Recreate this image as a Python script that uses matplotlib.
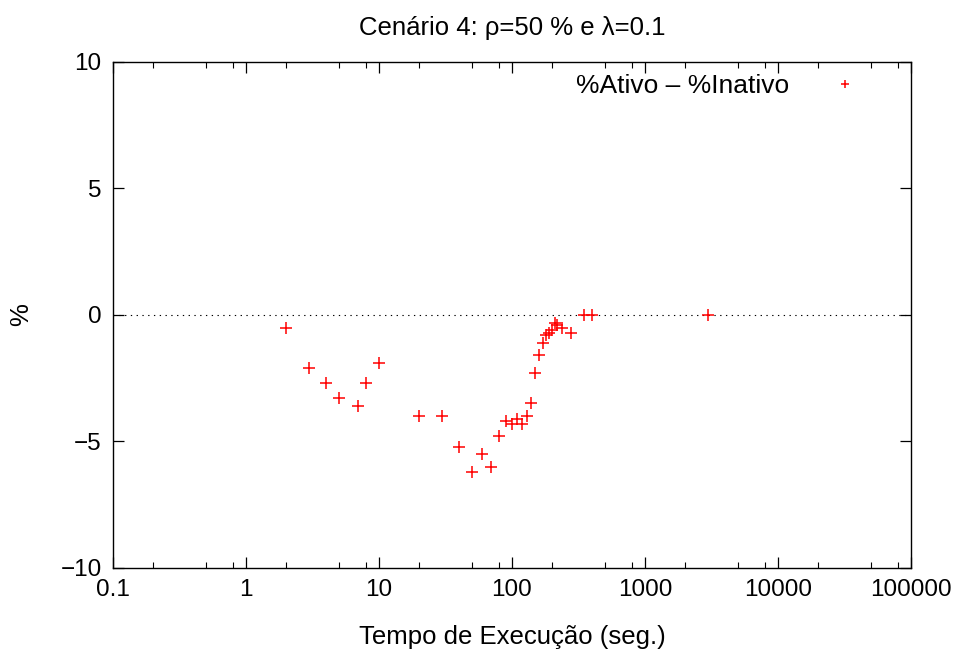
import matplotlib
matplotlib.use('Agg')
import matplotlib.pyplot as plt
from matplotlib.ticker import LogLocator, NullFormatter

plt.rcParams['font.family'] = ['Liberation Sans', 'DejaVu Sans']

# execution time (s) and difference %Ativo - %Inativo
tempo = [2, 3, 4, 5, 7, 8, 10, 20, 30, 40, 50, 60, 70, 80, 90, 100, 110, 120,
         130, 140, 150, 160, 170, 180, 190, 200, 210, 220, 240, 280, 350, 400, 3000]
diferenca = [-0.5, -2.1, -2.7, -3.3, -3.6, -2.7, -1.9, -4.0, -4.0, -5.2, -6.2, -5.5, -6.0,
             -4.8, -4.2, -4.3, -4.1, -4.3, -4.0, -3.5, -2.3, -1.6, -1.1, -0.8, -0.7,
             -0.6, -0.3, -0.4, -0.5, -0.7, 0.0, 0.0, 0.0]

xticks = [0.1, 1, 10, 100, 1000, 10000, 100000]
xticklabels = ['0.1', '1', '10', '100', '1000', '10000', '100000']
yticks = [-10, -5, 0, 5, 10]

fig = plt.figure(figsize=(9.64, 6.51), dpi=100)
ax = fig.add_axes([0.117, 0.1275, 0.828, 0.7775])

ax.axhline(0, color='black', lw=0.8, linestyle=(0, (1.2, 4)), zorder=1)
ax.plot(tempo, diferenca, '+', color='red', markersize=8, markeredgewidth=1.1,
        label='%Ativo \u2013 %Inativo', zorder=3)

ax.set_xscale('log')
ax.set_xlim(0.1, 100000)
ax.set_ylim(-10, 10)
ax.set_xticks(xticks)
ax.set_xticklabels(xticklabels)
ax.xaxis.set_minor_locator(LogLocator(base=10, subs=(2, 5, 8)))
ax.xaxis.set_minor_formatter(NullFormatter())
ax.set_yticks(yticks)
ax.set_yticklabels(['\u221210', '\u22125', '0', '5', '10'])

ax.tick_params(which='both', direction='in', top=True, right=True, labelsize=17.5)
ax.tick_params(which='major', length=8, width=0.9, pad=8)
ax.tick_params(which='minor', length=4.5, width=0.8)
for s in ax.spines.values():
    s.set_linewidth(1.0)

ax.set_title('Cen\u00e1rio 4: \u03c1=50 % e \u03bb=0.1', fontsize=18.5, pad=19)
ax.set_xlabel('Tempo de Execu\u00e7\u00e3o (seg.)', fontsize=18.5, labelpad=17)
ax.set_ylabel('%', fontsize=18.5, labelpad=20)

leg = ax.legend(loc='upper right', bbox_to_anchor=(0.98, 1.022), markerfirst=False,
                frameon=False, fontsize=19, handlelength=2.0, handletextpad=1.1,
                markerscale=0.75)

fig.savefig('out.png', dpi=100)
